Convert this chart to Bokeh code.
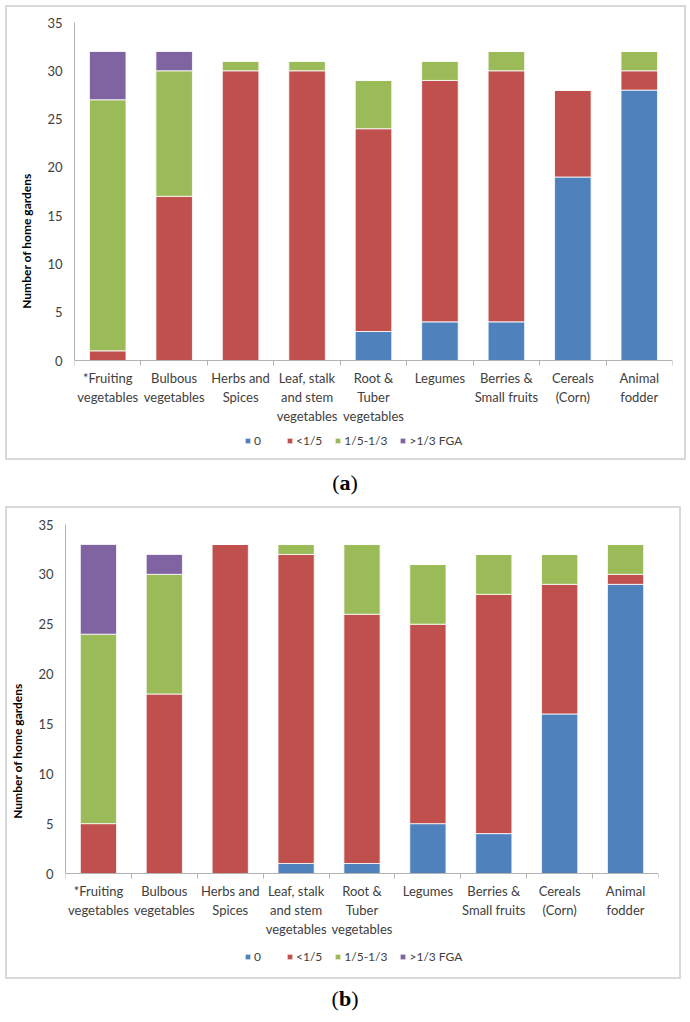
from bokeh.plotting import figure
from bokeh.models import (Range1d, FixedTicker, Legend, LegendItem, ColumnDataSource, Div, Spacer)
from bokeh.layouts import column, row
from bokeh.embed import file_html
from bokeh.resources import INLINE

categories = ["*Fruiting\nvegetables", "Bulbous\nvegetables", "Herbs and\nSpices",
              "Leaf, stalk\nand stem\nvegetables", "Root &\nTuber\nvegetables", "Legumes",
              "Berries &\nSmall fruits", "Cereals\n(Corn)", "Animal\nfodder"]
series_labels = ["0", "<1/5", "1/5-1/3", ">1/3 FGA"]
colors = ["#4F81BD", "#C0504D", "#9BBB59", "#8064A2"]
y_ticks = [0, 5, 10, 15, 20, 25, 30, 35]
y_max = 35

# Panel (a)
a_zero = [0, 0, 0, 0, 3, 4, 4, 19, 28]
a_lt15 = [1, 17, 30, 30, 21, 25, 26, 9, 2]
a_15_13 = [26, 13, 1, 1, 5, 2, 2, 0, 2]
a_gt13 = [5, 2, 0, 0, 0, 0, 0, 0, 0]

# Panel (b)
b_zero = [0, 0, 0, 1, 1, 5, 4, 16, 29]
b_lt15 = [5, 18, 33, 31, 25, 20, 24, 13, 1]
b_15_13 = [19, 12, 0, 1, 7, 6, 4, 3, 3]
b_gt13 = [9, 2, 0, 0, 0, 0, 0, 0, 0]

FONT = "Lato"
TXT = "#404040"
AXC = "#b3b3b3"


def make_panel(series, width, height, left, right, top, zero_px, bottom, leg_loc):
    """zero_px: pixel distance from top of figure to the value 0 line."""
    n = len(categories)
    xs = [i + 0.5 for i in range(n)]
    keys = ["s0", "s1", "s2", "s3"]
    data = {"x": xs}
    for k, s in zip(keys, series):
        data[k] = s
    src = ColumnDataSource(data)
    # the frame runs below 0 so that axis labels and legend live inside it
    px_per_unit = (zero_px - top) / y_max
    frame_bottom = height - bottom
    y_low = -(frame_bottom - zero_px) / px_per_unit
    p = figure(width=width, height=height, x_range=Range1d(0, n), y_range=Range1d(y_low, y_max),
               output_backend="svg", toolbar_location=None,
               min_border_left=left, min_border_right=right,
               min_border_top=top, min_border_bottom=bottom)
    rs = p.vbar_stack(keys, x="x", width=0.55, source=src, color=colors,
                      line_color="white", line_width=1, line_alpha=0.8)
    p.xgrid.visible = False
    p.ygrid.visible = False
    p.outline_line_color = None
    p.background_fill_color = "white"
    p.border_fill_color = "white"

    xa = p.xaxis[0]
    xa.fixed_location = 0
    xa.ticker = FixedTicker(ticks=xs, minor_ticks=list(range(n + 1)))
    xa.major_label_overrides = {x: c for x, c in zip(xs, categories)}
    xa.major_tick_line_color = None
    xa.major_tick_out = 0
    xa.major_tick_in = 0
    xa.minor_tick_out = 5
    xa.minor_tick_in = 0
    xa.minor_tick_line_color = AXC
    xa.axis_line_color = AXC
    xa.major_label_standoff = 4
    xa.major_label_text_font = FONT
    xa.major_label_text_font_size = "13px"
    xa.major_label_text_color = TXT

    ya = p.yaxis[0]
    ya.bounds = (0, y_max)
    ya.ticker = FixedTicker(ticks=y_ticks)
    ya.major_tick_line_color = None
    ya.minor_tick_line_color = None
    ya.major_tick_out = 0
    ya.axis_line_color = AXC
    ya.major_label_standoff = 12
    ya.major_label_text_font = FONT
    ya.major_label_text_font_size = "13px"
    ya.major_label_text_color = TXT
    ya.axis_label = "Number of home gardens"
    ya.axis_label_text_font = FONT
    ya.axis_label_text_font_size = "12px"
    ya.axis_label_text_font_style = "bold"
    ya.axis_label_text_color = "#000000"
    ya.axis_label_standoff = 10

    items = [LegendItem(label=lab, renderers=[r]) for lab, r in zip(series_labels, rs)]
    leg = Legend(items=items, orientation="horizontal", location=leg_loc,
                 border_line_color=None, background_fill_alpha=0,
                 glyph_width=7, glyph_height=7, label_standoff=3, spacing=12,
                 padding=0, margin=0,
                 label_text_font=FONT, label_text_font_size="12px", label_text_color=TXT)
    p.add_layout(leg, "center")
    p.styles = {"border": "2px solid #d9d9d9", "box-sizing": "border-box"}
    return p


pa = make_panel([a_zero, a_lt15, a_15_13, a_gt13], 681, 455, 67, 16, 15, 353, 3, (170, 11))
pb = make_panel([b_zero, b_lt15, b_15_13, b_gt13], 676, 473, 58, 25, 16, 365, 4, (179, 13))


def label_div(txt, h):
    return Div(text="(<b>%s</b>)" % txt, width=690, height=h, margin=0,
               styles={"text-align": "center", "font-size": "22px",
                       "line-height": "%dpx" % h, "font-family": "Liberation Serif",
                       "color": "#000000"})


layout = column(Spacer(height=5), row(Spacer(width=5), pa), label_div("a", 46),
                row(Spacer(width=5), pb), label_div("b", 40), spacing=0)
open("out.html", "w").write(file_html(layout, INLINE))
